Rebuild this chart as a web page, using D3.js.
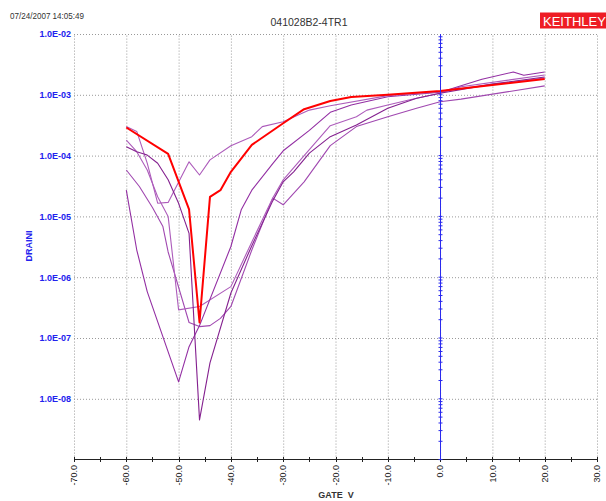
<!DOCTYPE html>
<html>
<head>
<meta charset="utf-8">
<script src="https://cdn.jsdelivr.net/npm/d3@7"></script>
<style>
  body { margin: 0; background: #fff; }
  text { font-family: "Liberation Sans", Arial, sans-serif; }
</style>
</head>
<body>
<svg id="chart" width="606" height="501"></svg>
<script>
// <-- Data -->
const stamp = "07/24/2007 14:05:49";
const title = "041028B2-4TR1";
const xTitle = "GATE  V";
const yTitle = "DRAINI";

const xTicks = [-70, -60, -50, -40, -30, -20, -10, 0, 10, 20, 30];
const xTickLabels = ["-70.0", "-60.0", "-50.0", "-40.0", "-30.0", "-20.0", "-10.0", "0.0", "10.0", "20.0", "30.0"];
const yTicks = [1e-2, 1e-3, 1e-4, 1e-5, 1e-6, 1e-7, 1e-8];
const yTickLabels = ["1.0E-02", "1.0E-03", "1.0E-04", "1.0E-05", "1.0E-06", "1.0E-07", "1.0E-08"];

// [gate V, drain I]
const curveRed = [[-60, 2.9e-4], [-52, 1.07e-4], [-48, 1.3e-5], [-46, 1.8e-7], [-44, 2.1e-5], [-42, 2.7e-5],
  [-40, 5.4e-5], [-36, 1.5e-4], [-30, 3.4e-4], [-26, 5.8e-4], [-21, 7.9e-4], [-17, 9.2e-4], [-10, 1.0e-3],
  [0, 1.15e-3], [10, 1.45e-3], [20, 1.82e-3]];
const curveHump = [[-60, 3.0e-4], [-58, 2.5e-4], [-56, 7.5e-5], [-54, 1.65e-5], [-52, 1.7e-5], [-48, 7.9e-5],
  [-46, 4.8e-5], [-44, 8.5e-5], [-40, 1.45e-4], [-36, 2.05e-4], [-34, 3.0e-4], [-30, 3.6e-4], [-25, 5.6e-4],
  [-21, 6.6e-4], [-10, 9.7e-4], [0, 1.12e-3], [10, 1.5e-3], [20, 1.89e-3]];
const curveV50 = [[-60, 2.7e-5], [-58, 2.8e-6], [-56, 5.8e-7], [-50, 1.9e-8], [-48, 7.2e-8], [-46, 1.6e-7],
  [-40, 3.2e-6], [-38, 1.3e-5], [-36, 2.7e-5], [-32, 7.4e-5], [-30, 1.2e-4], [-25, 2.6e-4], [-21, 5.15e-4],
  [-17, 6.8e-4], [-10, 9.3e-4], [0, 1.1e-3], [8, 1.8e-3], [14, 2.37e-3], [16, 2.1e-3], [20, 2.37e-3]];
const curveV46 = [[-60, 1.4e-4], [-58, 1.16e-4], [-56, 1.02e-4], [-54, 7.5e-5], [-52, 4.0e-5], [-50, 1.64e-5],
  [-48, 5.25e-6], [-46, 4.5e-9], [-44, 3.9e-8], [-40, 5.5e-7], [-36, 3.3e-6], [-32, 1.8e-5], [-30, 3.7e-5],
  [-28, 5.4e-5], [-25, 1.1e-4], [-21, 2.05e-4], [-16, 3.19e-4], [-10, 6.0e-4], [-4.5, 8.75e-4], [0, 1.06e-3],
  [10, 1.5e-3], [20, 1.96e-3]];
const curveFlat = [[-60, 1.8e-4], [-58, 1.16e-4], [-56, 5.8e-5], [-54, 2.1e-5], [-52, 1.0e-5], [-50, 2.9e-7],
  [-46, 3.3e-7], [-40, 7.0e-7], [-36, 3.8e-6], [-32, 2.0e-5], [-30, 4.0e-5], [-26, 1.0e-4], [-21, 3.1e-4],
  [-16, 4.36e-4], [-14, 5.6e-4], [-10, 6.8e-4], [-6, 8.2e-4], [0, 1.06e-3], [4, 1.36e-3], [20, 2.12e-3]];
const curveLow = [[-60, 5.8e-5], [-57.5, 3.1e-5], [-55, 1.4e-5], [-53, 6.8e-6], [-52, 2.6e-6], [-48, 1.8e-7],
  [-46, 1.54e-7], [-44, 1.6e-7], [-42, 2.1e-7], [-40, 3.3e-7], [-36, 2.8e-6], [-32, 2.0e-5], [-30, 1.55e-5],
  [-26, 3.7e-5], [-21, 1.46e-4], [-16, 3.0e-4], [-10, 4.36e-4], [-4.5, 6.0e-4], [0, 7.7e-4], [4, 8.5e-4],
  [20, 1.4e-3]];

// <-- Chart -->
;(function(){
  const svg = d3.select("#chart");
  const left = 74, right = 597, top = 34, bottom = 459.6;

  const x = d3.scaleLinear().domain([-70, 30]).range([left, right]);
  const y = d3.scaleLog().domain([1e-9, 1e-2]).range([bottom, top]);

  // header
  svg.append("text").attr("x", 10).attr("y", 19)
     .attr("font-size", 9).attr("fill", "#333")
     .attr("textLength", 74).attr("lengthAdjust", "spacingAndGlyphs")
     .text(stamp);
  svg.append("text").attr("x", 309).attr("y", 26)
     .attr("text-anchor", "middle").attr("font-size", 10.5).attr("fill", "#333")
     .text(title);
  svg.append("rect").attr("x", 540).attr("y", 12.5).attr("width", 66).attr("height", 16)
     .attr("fill", "#ee1c24");
  svg.append("text").attr("x", 543).attr("y", 25.5)
     .attr("font-size", 13).attr("fill", "#fff")
     .text("KEITHLEY");

  // grid
  svg.append("g")
     .attr("transform", "translate(0," + bottom + ")")
     .call(d3.axisBottom(x).tickValues(xTicks).tickSize(-(bottom - top)).tickFormat(""))
     .call(g => g.select(".domain").remove())
     .selectAll("line")
     .attr("stroke", "#999").attr("stroke-dasharray", "1,2");
  svg.append("g")
     .attr("transform", "translate(" + left + ",0)")
     .call(d3.axisLeft(y).tickValues(yTicks).tickSize(-(right - left)).tickFormat(""))
     .call(g => g.select(".domain").remove())
     .selectAll("line")
     .attr("stroke", "#999").attr("stroke-dasharray", "1,2");

  // y labels
  const yLab = svg.append("g")
     .attr("transform", "translate(" + (left - 3) + ",0)")
     .call(d3.axisLeft(y).tickValues(yTicks).tickSize(0).tickPadding(0)
       .tickFormat((d, i) => yTickLabels[i]));
  yLab.select(".domain").remove();
  yLab.selectAll("text")
     .attr("font-family", "Liberation Sans, Arial, sans-serif")
     .attr("font-size", 9).attr("font-weight", "bold").attr("fill", "#2222ee");

  svg.append("text")
     .attr("transform", "translate(29," + 246 + ") rotate(-90)")
     .attr("text-anchor", "middle").attr("dy", "0.35em")
     .attr("font-size", 9).attr("font-weight", "bold").attr("fill", "#2222ee")
     .text(yTitle);

  // x axis
  svg.append("line")
     .attr("x1", left).attr("x2", right).attr("y1", 459.5).attr("y2", 459.5)
     .attr("stroke", "#222");
  svg.append("g").selectAll("line")
     .data(d3.range(-70, 31, 5))
     .enter().append("line")
     .attr("x1", d => Math.round(x(d)) + 0.5).attr("x2", d => Math.round(x(d)) + 0.5)
     .attr("y1", 457).attr("y2", 462)
     .attr("stroke", "#222");
  svg.append("g").selectAll("text")
     .data(xTicks)
     .enter().append("text")
     .attr("transform", d => "translate(" + x(d) + ",465) rotate(-90)")
     .attr("text-anchor", "end").attr("dy", "0.35em")
     .attr("font-size", 9).attr("fill", "#222")
     .text((d, i) => xTickLabels[i]);
  svg.append("text").attr("x", 336).attr("y", 498)
     .attr("text-anchor", "middle")
     .attr("font-size", 9).attr("font-weight", "bold").attr("fill", "#333")
     .attr("xml:space", "preserve")
     .text(xTitle);

  // curves
  const line = d3.line().x(d => x(d[0])).y(d => y(d[1]));
  const series = [
    { data: curveLow,  color: "#a048b0", width: 1.1 },
    { data: curveFlat, color: "#ad5cbb", width: 1.1 },
    { data: curveV50,  color: "#932fa3", width: 1.1 },
    { data: curveHump, color: "#ad5cbb", width: 1.1 },
    { data: curveV46,  color: "#84208f", width: 1.1 },
    { data: curveRed,  color: "#ff0000", width: 2 }
  ];
  svg.append("g").selectAll("path")
     .data(series)
     .enter().append("path")
     .attr("d", d => line(d.data))
     .attr("fill", "none")
     .attr("stroke", d => d.color)
     .attr("stroke-width", d => d.width)
     .attr("stroke-linejoin", "round");

  // zero line with log minor ticks
  const x0 = Math.round(x(0)) + 0.5;
  svg.append("line")
     .attr("x1", x0).attr("x2", x0).attr("y1", top).attr("y2", bottom)
     .attr("stroke", "#2a2aee").attr("stroke-width", 1);
  const minor = [];
  for (let e = -9; e < -2; e++) for (let k = 1; k < 10; k++) minor.push(k * Math.pow(10, e));
  svg.append("g").selectAll("line")
     .data(minor)
     .enter().append("line")
     .attr("x1", x0 - 2).attr("x2", x0 + 2)
     .attr("y1", d => y(d)).attr("y2", d => y(d))
     .attr("stroke", "#2a2aee");
})();
</script>
</body>
</html>
